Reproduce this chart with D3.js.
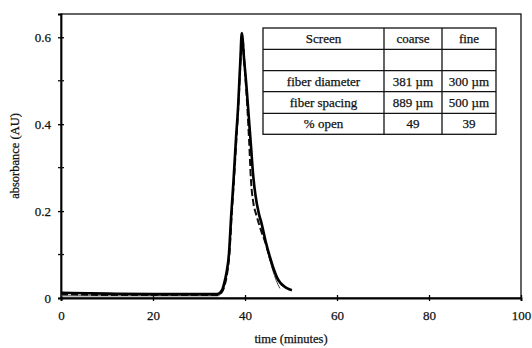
<!DOCTYPE html>
<html><head><meta charset="utf-8">
<script src="https://cdn.jsdelivr.net/npm/d3@7"></script>
<style>body{margin:0;background:#fff}svg{display:block}svg text{font-family:"Liberation Serif","Times New Roman",serif !important;fill:#111;stroke:#111;stroke-width:0.25px}</style>
</head><body>
<script>
// --- data ---
const xTicks = [0, 20, 40, 60, 80, 100];
const yTicks = [0, 0.2, 0.4, 0.6];
const yMinorTicks = [0.1, 0.3, 0.5];
const solidT = [0, 10, 20, 30, 34, 35, 35.5, 36, 36.5, 37, 37.5, 38, 38.5, 39, 39.3, 39.8, 40.3, 40.8, 41.3, 41.8, 42.3, 43, 43.6, 44.5, 45.4, 46.2, 46.9, 47.6, 48.3, 49.2, 50.2];
const solidV = [0.012, 0.010, 0.009, 0.009, 0.009, 0.018, 0.035, 0.06, 0.10, 0.19, 0.27, 0.36, 0.44, 0.55, 0.61, 0.55, 0.49, 0.42, 0.35, 0.28, 0.235, 0.195, 0.172, 0.13, 0.095, 0.068, 0.049, 0.036, 0.029, 0.022, 0.018];
const dashT = [0, 10, 20, 30, 34, 35, 35.6, 36.1, 36.6, 37.1, 37.6, 38.1, 38.6, 39.1, 39.4, 40, 40.5, 40.9, 41.3, 41.8, 42.5, 43.5, 44.5, 45.4, 46.2, 46.9, 47.6, 48.3, 49.5];
const dashV = [0.009, 0.007, 0.007, 0.007, 0.007, 0.014, 0.03, 0.055, 0.10, 0.19, 0.27, 0.36, 0.45, 0.56, 0.60, 0.52, 0.44, 0.36, 0.27, 0.22, 0.19, 0.155, 0.125, 0.092, 0.066, 0.047, 0.035, 0.028, 0.020];
const thinT = [0, 10, 20, 30, 34, 35, 35.6, 36.1, 36.6, 37.1, 37.6, 38.1, 38.6, 39.1, 39.3, 39.8, 40.3, 40.8, 41.3, 41.8, 42.3, 43, 43.6, 44.5, 45.2, 46, 46.8, 47.6];
const thinV = [0.005, 0.005, 0.005, 0.005, 0.005, 0.013, 0.03, 0.055, 0.10, 0.19, 0.27, 0.36, 0.45, 0.56, 0.60, 0.54, 0.48, 0.41, 0.34, 0.27, 0.23, 0.19, 0.165, 0.125, 0.095, 0.065, 0.040, 0.022];
const tableRows = [["Screen", "coarse", "fine"], ["", "", ""], ["fiber diameter", "381 \u00b5m", "300 \u00b5m"], ["fiber spacing", "889 \u00b5m", "500 \u00b5m"], ["% open", "49", "39"]];

const W = 532, H = 348;
const svg = d3.select("body").append("svg").attr("width", W).attr("height", H);
const x = d3.scaleLinear().domain([0, 100]).range([61, 521]);
const y = d3.scaleLinear().domain([0, 0.6536]).range([298, 14]);

// frame
svg.append("rect").attr("x", 61).attr("y", 14).attr("width", 460).attr("height", 284)
  .attr("fill", "none").attr("stroke", "#111").attr("stroke-width", 1.3);

// axes
const xAxis = svg.append("g").attr("transform", "translate(0,298)")
  .call(d3.axisBottom(x).tickValues(xTicks).tickSize(3).tickPadding(10).tickFormat(d3.format("d")));
xAxis.selectAll(".tick line").attr("y1", -3).attr("y2", 3).attr("stroke-width", 1.3);
xAxis.select(".domain").attr("stroke-width", 1.8);
xAxis.selectAll("text").attr("font-size", 13);

const yAxis = svg.append("g").attr("transform", "translate(61,0)")
  .call(d3.axisLeft(y).tickValues(yTicks).tickSize(3).tickPadding(7).tickFormat(d => d === 0 ? "0" : d3.format(".1f")(d)));
yAxis.selectAll(".tick line").attr("x1", -3).attr("x2", 3).attr("stroke-width", 1.3);
yAxis.select(".domain").attr("stroke-width", 1.8);
yAxis.selectAll("text").attr("font-size", 13);
yAxis.selectAll(".minor").data(yMinorTicks).enter().append("line")
  .attr("x1", -3).attr("x2", 3).attr("y1", d => y(d)).attr("y2", d => y(d))
  .attr("stroke", "#111").attr("stroke-width", 1.3);

// titles
svg.append("text").attr("x", 291).attr("y", 343).attr("text-anchor", "middle").attr("font-size", 12.5).text("time  (minutes)");
svg.append("text").attr("transform", "translate(19,156) rotate(-90)").attr("text-anchor", "middle").attr("font-size", 12.5).text("absorbance  (AU)");

// curves
const line = d3.line().x(d => x(d[0])).y(d => y(d[1])).curve(d3.curveMonotoneX);
svg.append("path").datum(d3.zip(thinT, thinV)).attr("d", line).attr("fill", "none").attr("stroke", "#444").attr("stroke-width", 1);
svg.append("path").datum(d3.zip(dashT, dashV)).attr("d", line).attr("fill", "none").attr("stroke", "#111").attr("stroke-width", 2).attr("stroke-dasharray", "7,3");
svg.append("path").datum(d3.zip(solidT, solidV)).attr("d", line).attr("fill", "none").attr("stroke", "#000").attr("stroke-width", 2.6);

// table
const colX = [263, 384, 442, 496];
const rowY = [28, 49.3, 70.7, 91.7, 113.3, 134.3];
const tbl = svg.append("g");
tbl.append("rect").attr("x", colX[0]).attr("y", rowY[0]).attr("width", colX[3] - colX[0]).attr("height", rowY[5] - rowY[0])
  .attr("fill", "#fff").attr("stroke", "#111").attr("stroke-width", 1.3);
colX.slice(1, 3).forEach(cx => tbl.append("line").attr("x1", cx).attr("x2", cx).attr("y1", rowY[0]).attr("y2", rowY[5]).attr("stroke", "#111").attr("stroke-width", 1.3));
rowY.slice(1, 5).forEach(ry => tbl.append("line").attr("x1", colX[0]).attr("x2", colX[3]).attr("y1", ry).attr("y2", ry).attr("stroke", "#111").attr("stroke-width", 1.3));
tableRows.forEach((row, i) => row.forEach((cell, j) => {
  tbl.append("text").attr("x", (colX[j] + colX[j + 1]) / 2).attr("y", (rowY[i] + rowY[i + 1]) / 2 + 4.5)
    .attr("text-anchor", "middle").attr("font-size", 13).text(cell);
}));
</script>
</body></html>
